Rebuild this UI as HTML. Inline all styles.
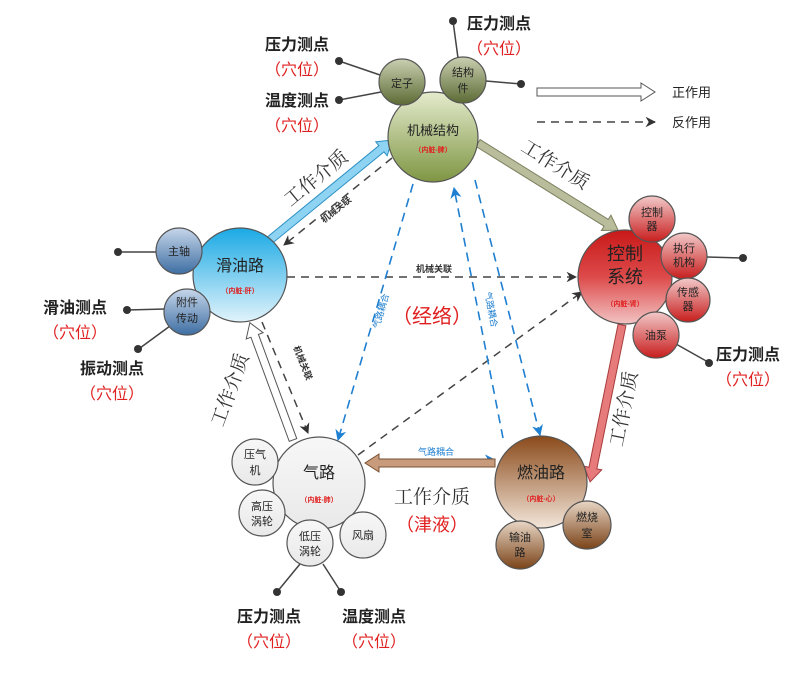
<!DOCTYPE html>
<html><head><meta charset="utf-8"><style>
html,body{margin:0;padding:0;background:#fff;}
svg{display:block;font-family:"Liberation Sans","Noto Sans CJK SC",sans-serif;}
</style></head><body>
<svg width="811" height="675" viewBox="0 0 811 675" xmlns="http://www.w3.org/2000/svg">
<defs>
<linearGradient id="gG" x1="0" y1="0" x2="0" y2="1"><stop offset="0" stop-color="#e4ebcd"/><stop offset="1" stop-color="#7f9643"/></linearGradient>
<linearGradient id="gGs" x1="0" y1="0" x2="0" y2="1"><stop offset="0" stop-color="#c9cfb0"/><stop offset="1" stop-color="#5c6b35"/></linearGradient>
<linearGradient id="gR" x1="0" y1="0" x2="0" y2="1"><stop offset="0" stop-color="#c81818"/><stop offset="0.5" stop-color="#dd4a4a"/><stop offset="1" stop-color="#f2c4c4"/></linearGradient>
<linearGradient id="gRm" x1="0" y1="0" x2="0" y2="1"><stop offset="0" stop-color="#f2c9c9"/><stop offset="1" stop-color="#c81d1d"/></linearGradient>
<linearGradient id="gB" x1="0" y1="0" x2="0" y2="1"><stop offset="0" stop-color="#1aa9e4"/><stop offset="1" stop-color="#e2f3fb"/></linearGradient>
<linearGradient id="gBs" x1="0" y1="0" x2="0" y2="1"><stop offset="0" stop-color="#c6d6ea"/><stop offset="1" stop-color="#3e6ea3"/></linearGradient>
<linearGradient id="gW" x1="0" y1="0" x2="0" y2="1"><stop offset="0" stop-color="#f7f7f7"/><stop offset="1" stop-color="#e9e9e9"/></linearGradient>
<linearGradient id="gN" x1="0" y1="0" x2="0" y2="1"><stop offset="0" stop-color="#8a4a1a"/><stop offset="1" stop-color="#f3e6da"/></linearGradient>
<linearGradient id="gNs" x1="0" y1="0" x2="0" y2="1"><stop offset="0" stop-color="#e8d6c5"/><stop offset="1" stop-color="#7a4318"/></linearGradient>
<marker id="ak" viewBox="0 0 10 10" refX="9" refY="5" markerWidth="7" markerHeight="7" orient="auto"><path d="M0,0 L10,5 L0,10 L3,5 z" fill="#333"/></marker>
<marker id="ab" viewBox="0 0 10 10" refX="9" refY="5" markerWidth="7" markerHeight="7" orient="auto"><path d="M0,0 L10,5 L0,10 L3,5 z" fill="#1f7fd0"/></marker>
</defs>

<g stroke="#444" stroke-width="1.5" stroke-dasharray="8,6" fill="none" marker-end="url(#ak)">
<line x1="287" y1="277" x2="576" y2="277"/>
<line x1="392" y1="158" x2="284" y2="245"/>
<line x1="262" y1="322" x2="308" y2="433"/>
<line x1="358" y1="455" x2="582" y2="292"/>
<line x1="537" y1="122" x2="655" y2="122"/>
</g>
<g stroke="#1f7fd0" stroke-width="1.6" stroke-dasharray="9,6" fill="none" marker-end="url(#ab)">
<line x1="413" y1="184" x2="338" y2="440"/>
<line x1="503" y1="438" x2="454" y2="188"/>
<line x1="475" y1="180" x2="540" y2="435"/>
<line x1="378" y1="460" x2="495" y2="460"/>
</g>

<g stroke-width="1">
<g transform="translate(270,240) rotate(-39.3)"><polygon points="0,-4 144,-4 144,-9 158,0 144,9 144,4 0,4" fill="#8ed3f2" stroke="#2a8fc4"/></g>
<g transform="translate(478,143) rotate(31.9)"><polygon points="0,-4 151,-4 151,-9 165,0 151,9 151,4 0,4" fill="#b9bd9c" stroke="#7d815f"/></g>
<g transform="translate(622,325) rotate(101.5)"><polygon points="0,-4 146,-4 146,-9 160,0 146,9 146,4 0,4" fill="#e77b7b" stroke="#a83c3c"/></g>
<g transform="translate(495,463) rotate(180)"><polygon points="0,-4 116,-4 116,-9 130,0 116,9 116,4 0,4" fill="#c79b7b" stroke="#7a5030"/></g>
<g transform="translate(293,440) rotate(-110.2)"><polygon points="0,-4 111,-4 111,-9 125,0 111,9 111,4 0,4" fill="#fff" stroke="#555"/></g>
<polygon points="537,88 641,88 641,83 655,92 641,101 641,96 537,96" fill="#fff" stroke="#555"/>
</g>

<g stroke="#444" stroke-width="1.5" fill="#333">
<line x1="339" y1="61" x2="380" y2="75"/><circle cx="339" cy="61" r="4" stroke="none"/>
<line x1="339" y1="100" x2="381" y2="92"/><circle cx="339" cy="100" r="4" stroke="none"/>
<line x1="453" y1="21" x2="458" y2="58"/><circle cx="453" cy="21" r="4" stroke="none"/>
<line x1="486" y1="81" x2="521" y2="84"/><circle cx="521" cy="84" r="4" stroke="none"/>
<line x1="120" y1="252" x2="157" y2="252"/><circle cx="118" cy="252" r="4" stroke="none"/>
<line x1="127" y1="310" x2="165" y2="309"/><circle cx="127" cy="310" r="4" stroke="none"/>
<line x1="140" y1="348" x2="170" y2="326"/><circle cx="138" cy="349" r="4" stroke="none"/>
<line x1="707" y1="257" x2="742" y2="258"/><circle cx="743" cy="258" r="4" stroke="none"/>
<line x1="676" y1="344" x2="708" y2="362"/><circle cx="709" cy="363" r="4" stroke="none"/>
<line x1="300" y1="564" x2="277" y2="592"/><circle cx="277" cy="592" r="4" stroke="none"/>
<line x1="323" y1="564" x2="341" y2="592"/><circle cx="341" cy="592" r="4" stroke="none"/>
</g>

<g stroke="#555" stroke-width="1.2">
<circle cx="433" cy="137" r="45" fill="url(#gG)"/>
<circle cx="402" cy="82" r="23" fill="url(#gGs)"/>
<circle cx="463" cy="80" r="23" fill="url(#gGs)"/>
<circle cx="625" cy="277" r="47" fill="url(#gR)"/>
<circle cx="652" cy="219" r="23" fill="url(#gRm)"/>
<circle cx="684" cy="256" r="23" fill="url(#gRm)"/>
<circle cx="688" cy="300" r="22" fill="url(#gRm)"/>
<circle cx="656" cy="335" r="23" fill="url(#gRm)"/>
<circle cx="240" cy="275" r="47" fill="url(#gB)"/>
<circle cx="179" cy="251" r="23" fill="url(#gBs)"/>
<circle cx="187" cy="312" r="23" fill="url(#gBs)"/>
<circle cx="319" cy="483" r="46" fill="url(#gW)"/>
<circle cx="255" cy="462" r="23" fill="url(#gW)"/>
<circle cx="262" cy="513" r="23" fill="url(#gW)"/>
<circle cx="310" cy="543" r="23" fill="url(#gW)"/>
<circle cx="363" cy="535" r="23" fill="url(#gW)"/>
<circle cx="541" cy="482" r="46" fill="url(#gN)"/>
<circle cx="520" cy="545" r="24" fill="url(#gNs)"/>
<circle cx="587" cy="525" r="24" fill="url(#gNs)"/>
</g>

<g text-anchor="middle" fill="#222">
<text x="433" y="135" font-size="13">机械结构</text>
<text x="433" y="152" font-size="7" fill="#e02020" font-weight="bold">（内脏-脾）</text>
<text x="402" y="87" font-size="11">定子</text>
<text x="463" y="76" font-size="11">结构</text><text x="463" y="92" font-size="11">件</text>
<text x="625" y="260" font-size="18">控制</text>
<text x="625" y="283" font-size="18">系统</text>
<text x="625" y="306" font-size="7" fill="#e02020" font-weight="bold">（内脏-肾）</text>
<text x="652" y="216" font-size="11">控制</text><text x="652" y="230" font-size="11">器</text>
<text x="684" y="252" font-size="11">执行</text><text x="684" y="266" font-size="11">机构</text>
<text x="688" y="296" font-size="11">传感</text><text x="688" y="310" font-size="11">器</text>
<text x="656" y="339" font-size="11">油泵</text>
<text x="240" y="271" font-size="16">滑油路</text>
<text x="240" y="293" font-size="7" fill="#e02020" font-weight="bold">（内脏-肝）</text>
<text x="179" y="255" font-size="11">主轴</text>
<text x="187" y="306" font-size="11">附件</text><text x="187" y="322" font-size="11">传动</text>
<text x="319" y="478" font-size="16">气路</text>
<text x="319" y="502" font-size="7" fill="#e02020" font-weight="bold">（内脏-肺）</text>
<text x="255" y="458" font-size="11">压气</text><text x="255" y="474" font-size="11">机</text>
<text x="262" y="510" font-size="11">高压</text><text x="262" y="525" font-size="11">涡轮</text>
<text x="310" y="540" font-size="11">低压</text><text x="310" y="555" font-size="11">涡轮</text>
<text x="363" y="539" font-size="11">风扇</text>
<text x="541" y="478" font-size="16">燃油路</text>
<text x="541" y="501" font-size="7" fill="#e02020" font-weight="bold">（内脏-心）</text>
<text x="520" y="541" font-size="11">输油</text><text x="520" y="556" font-size="11">路</text>
<text x="587" y="521" font-size="11">燃烧</text><text x="587" y="537" font-size="11">室</text>
</g>

<g text-anchor="middle" font-size="16">
<g fill="#222" font-weight="bold">
<text x="297" y="50">压力测点</text>
<text x="297" y="106">温度测点</text>
<text x="499" y="29">压力测点</text>
<text x="75" y="313">滑油测点</text>
<text x="112" y="374">振动测点</text>
<text x="748" y="360">压力测点</text>
<text x="269" y="622">压力测点</text>
<text x="374" y="622">温度测点</text>
</g>
<g fill="#e02020">
<text x="297" y="75">（穴位）</text>
<text x="297" y="131">（穴位）</text>
<text x="499" y="54">（穴位）</text>
<text x="75" y="338">（穴位）</text>
<text x="112" y="399">（穴位）</text>
<text x="748" y="385">（穴位）</text>
<text x="269" y="647">（穴位）</text>
<text x="374" y="647">（穴位）</text>
</g>
</g>

<g font-size="13" fill="#222">
<text x="672" y="97">正作用</text>
<text x="672" y="127">反作用</text>
</g>

<g font-size="19" fill="#333" text-anchor="middle" font-family="'Liberation Serif','Noto Serif CJK SC',serif">
<text transform="translate(320,183) rotate(-39.3)">工作介质</text>
<text transform="translate(552,170) rotate(31.9)">工作介质</text>
<text transform="translate(630,410) rotate(-78.5)">工作介质</text>
<text transform="translate(236,392) rotate(-69.8)">工作介质</text>
<text x="432" y="503">工作介质</text>
</g>
<text x="432" y="531" font-size="18" fill="#e02020" text-anchor="middle">（津液）</text>
<text x="432" y="323" font-size="20" fill="#e02020" text-anchor="middle">（经络）</text>

<g font-size="9" font-weight="bold" fill="#333" text-anchor="middle">
<text x="434" y="272">机械关联</text>
<text transform="translate(338,212) rotate(-39)">机械关联</text>
<text transform="translate(300,364) rotate(68)">机械关联</text>
</g>
<g font-size="9" fill="#1f7fd0" text-anchor="middle">
<text x="436" y="455">气路耦合</text>
<text transform="translate(384,312) rotate(-74)">气路耦合</text>
<text transform="translate(488,310) rotate(79)">气路耦合</text>
</g>
</svg>
</body></html>
